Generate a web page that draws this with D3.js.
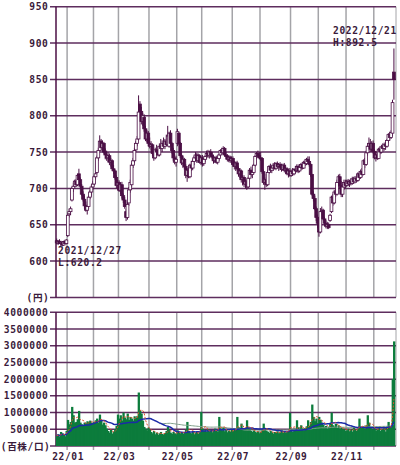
<!DOCTYPE html>
<html><head><meta charset="utf-8">
<script src="https://cdn.jsdelivr.net/npm/d3@7"></script>
<style>body{margin:0;background:#fff}svg{display:block}</style>
</head><body><svg id="c" width="400" height="465"></svg>
<script>
// ---- data (daily, 2021/12/21 .. 2022/12/21) ----
const opens=[628,625,627,624,626,622,627,624,635,665,
668,684,700,703,710,705,720,712,703,692,
685,676,670,675,688,695,702,706,716,722,
742,752,765,756,762,750,746,742,745,736,
738,727,724,715,704,708,697,705,690,684,
668,660,680,698,705,732,738,753,762,768,
816,806,792,798,782,768,776,762,758,760,
748,742,753,750,746,758,755,762,758,765,
760,758,776,762,752,742,736,762,776,762,
745,735,740,730,718,725,716,732,728,737,
742,746,738,745,736,742,734,740,744,748,
745,750,746,743,738,742,736,741,746,752,
749,755,746,744,740,743,738,741,733,730,
735,727,720,724,712,715,706,709,702,714,
725,719,722,732,744,748,745,742,741,723,
708,712,705,722,730,725,728,732,728,734,
730,733,729,726,732,725,727,720,724,718,
723,720,726,724,730,724,729,733,728,736,
734,740,737,733,719,692,686,672,660,655,
640,668,670,658,652,648,650,656,668,688,
680,695,692,708,716,704,692,702,708,704,
710,706,709,707,713,709,714,711,720,715,
723,719,738,733,749,758,762,754,762,751,
742,746,741,754,750,757,755,760,758,766,
774,770,776,860];
const highs=[631,629,630,628,627,628,629,630,666,672,
675,702,708,712,713,720,727,715,706,696,
690,682,678,690,698,705,710,718,722,745,
756,773,768,766,764,755,752,750,748,742,
740,732,726,718,712,711,708,709,693,688,
672,682,702,712,735,742,756,765,772,828,
820,812,804,802,786,780,779,770,765,762,
752,756,760,758,762,768,766,770,768,774,
786,778,780,764,756,748,745,782,778,764,
748,744,742,733,728,730,734,738,740,745,
750,749,748,747,744,746,742,746,752,753,
752,754,750,746,744,745,744,748,754,756,
758,757,750,747,746,745,744,744,738,737,
738,730,728,726,718,718,712,712,716,728,
730,726,734,746,750,752,750,750,743,726,
715,720,725,732,734,732,735,736,736,737,
735,736,734,734,735,730,729,726,728,726,
728,728,731,733,733,732,735,736,738,740,
742,744,744,735,720,696,690,675,664,661,
673,675,672,661,656,654,653,665,690,692,
698,700,712,719,720,710,706,712,712,712,
713,712,714,716,716,717,718,722,724,726,
728,740,742,752,762,770,768,765,766,754,
750,752,756,758,760,762,763,764,768,776,
778,780,822,892.5];
const lows=[623,622,624,621,620.2,621,623,623,633,660,
663,682,695,700,702,703,708,700,690,682,
672,668,664,672,685,690,698,704,712,720,
738,750,752,750,748,740,738,736,732,730,
724,720,712,700,698,695,692,686,680,672,
655,657,676,694,702,728,735,750,758,766,
800,788,786,778,765,764,758,755,752,745,
738,740,746,744,744,752,750,756,754,758,
758,756,760,748,738,733,730,758,760,742,
732,728,726,714,709,714,714,724,725,732,
738,735,735,734,732,730,731,736,740,742,
741,743,740,734,735,734,733,738,743,746,
747,744,740,737,736,735,734,730,726,724,
725,716,714,708,704,702,700,698,700,712,
716,714,720,730,740,742,740,738,720,705,
698,702,703,720,722,721,724,726,725,727,
724,726,723,724,722,720,718,715,716,716,
717,718,721,722,721,722,725,726,727,731,
732,735,730,716,690,682,670,655,645,633.5,
638,664,656,648,645,644,644,654,666,676,
678,688,690,702,700,688,688,698,700,702,
703,702,704,705,706,707,708,709,712,713,
716,718,728,731,745,752,750,750,748,740,
737,739,740,747,748,751,752,753,756,763,
766,768,772,822];
const closes=[625,627,624,626,622,627,624,629,663,668,
672,700,703,710,705,718,712,703,692,685,
676,670,675,688,695,702,706,716,720,742,
752,765,756,762,750,746,742,745,736,738,
727,724,715,704,708,697,705,690,684,675,
660,678,698,708,732,738,752,762,768,805,
806,792,800,782,768,776,762,758,760,748,
742,753,750,746,758,755,762,758,765,760,
772,776,762,752,742,736,740,778,762,745,
735,740,730,718,725,716,732,728,737,742,
746,738,745,736,742,734,740,744,748,745,
750,746,743,738,742,736,741,746,752,749,
755,746,744,740,743,738,741,733,730,735,
727,720,724,712,715,706,709,702,714,725,
719,722,732,744,748,745,742,741,723,708,
712,705,722,730,725,728,732,728,734,730,
733,729,726,732,725,727,720,724,718,723,
720,726,724,730,724,729,733,728,736,734,
740,737,733,719,692,686,672,660,652,640,
668,670,658,652,648,650,646,663,688,680,
695,692,708,716,704,692,702,708,704,710,
706,709,707,713,709,714,711,720,715,723,
719,738,733,749,758,762,754,762,751,742,
746,741,754,750,757,755,760,758,766,774,
770,777,818,850];
// volume in thousands of shares
const volumesK=[300,350,280,420,380,330,290,450,780,650,
720,1170,920,700,720,800,1050,700,650,620,
700,680,740,720,760,700,680,720,770,820,
700,940,760,640,700,620,520,450,400,480,
370,430,500,600,940,820,920,760,1000,850,
800,970,780,870,820,760,890,840,900,1600,
1070,970,760,570,520,470,550,480,420,380,
450,350,400,330,380,420,360,340,390,450,
570,480,400,360,420,380,350,470,430,380,
420,360,400,480,720,450,400,380,420,350,
390,430,370,410,1020,520,450,480,420,500,
440,470,410,450,520,480,430,870,520,470,
560,440,480,410,460,430,500,450,480,520,
870,560,510,670,540,480,520,770,560,500,
450,420,470,430,400,440,380,420,480,670,
520,460,430,390,450,410,370,420,400,440,
380,410,470,390,430,400,450,420,990,480,
420,520,450,770,560,480,620,520,470,540,
590,770,600,720,1240,870,740,820,690,870,
780,700,640,560,600,520,580,670,1000,620,
580,660,540,620,500,560,480,520,450,470,
520,440,500,430,560,480,450,520,820,540,
570,580,500,620,920,700,560,520,480,530,
460,500,570,450,510,480,540,430,570,720,
600,560,2000,3130];
// index of first trading day of each month Jan..Dec 2022
const monthStarts=[8,27,45,67,87,105,127,147,169,189,209,229];
const monthLabels=["22/01","22/03","22/05","22/07","22/09","22/11"];
const labelMonthIdx=[0,2,4,6,8,10];
const priceTicks=[600,650,700,750,800,850,900,950];
const volTicks=[500000,1000000,1500000,2000000,2500000,3000000,3500000,4000000];
const highNote=["2022/12/21","H:892.5"];
const lowNote=["2021/12/27","L:620.2"];
const priceUnit="(円)", volUnit="(百株/口)";

// ---- drawing ----
const svg=d3.select("#c");
const n=closes.length;
const L=56,R=396;
const x=d3.scaleBand().domain(d3.range(n+1)).range([L,R]).padding(0);
const bw=x.bandwidth();
const cx=i=>x(i)+bw/2;
const yP=d3.scaleLinear().domain([550,950]).range([297.4,6.7]);
const yV=d3.scaleLinear().domain([0,4000000]).range([446,312.3]);

const purple="#4b0f45", gridH="#5e2d5e", gridV="#a4a4a8", txt="#3a1a3a";
const font="'DejaVu Sans Mono','Noto Sans CJK JP',monospace";
const fs="9.6px", ls="0.6px";

// vertical gridlines
const gV=svg.append("g");
monthStarts.forEach(m=>{
  const xx=x(m);
  gV.append("line").attr("x1",xx).attr("x2",xx).attr("y1",yP(950)).attr("y2",yP(550)).attr("stroke",gridV).attr("stroke-width",1.5);
  gV.append("line").attr("x1",xx).attr("x2",xx).attr("y1",yV(4000000)).attr("y2",yV(0)+4).attr("stroke",gridV).attr("stroke-width",1.5);
});
[[yP(950),yP(550)],[yV(4000000),yV(0)]].forEach(([a,b])=>
  gV.append("line").attr("x1",R).attr("x2",R).attr("y1",a).attr("y2",b).attr("stroke",gridV).attr("stroke-width",1));

// horizontal gridlines
const gH=svg.append("g");
[550].concat(priceTicks).forEach(t=>gH.append("line").attr("x1",L-6).attr("x2",R).attr("y1",yP(t)).attr("y2",yP(t)).attr("stroke",gridH).attr("stroke-width",1.5));
[0].concat(volTicks).forEach(t=>gH.append("line").attr("x1",L-6).attr("x2",R).attr("y1",yV(t)).attr("y2",yV(t)).attr("stroke",gridH).attr("stroke-width",1.5));
gH.append("line").attr("x1",L).attr("x2",L).attr("y1",yP(950)).attr("y2",yP(550)).attr("stroke",purple).attr("stroke-width",1.5);
gH.append("line").attr("x1",L).attr("x2",L).attr("y1",yV(4000000)).attr("y2",yV(0)).attr("stroke",purple).attr("stroke-width",1.5);

// axis labels
const tA=svg.append("g").attr("font-family",font).attr("font-weight","bold").attr("font-size",fs).attr("letter-spacing",ls).attr("fill",txt);
priceTicks.forEach(t=>tA.append("text").attr("x",48.5).attr("y",yP(t)+3.5).attr("text-anchor","end").text(t));
volTicks.forEach(t=>tA.append("text").attr("x",48.5).attr("y",yV(t)+3.5).attr("text-anchor","end").text(t));
tA.append("text").attr("x",49.5).attr("y",yP(550)+3.5).attr("text-anchor","end").text(priceUnit);
tA.append("text").attr("x",50.5).attr("y",yV(0)+3.5).attr("text-anchor","end").text(volUnit);
labelMonthIdx.forEach((k,j)=>tA.append("text").attr("x",x(monthStarts[k])+1).attr("y",459.5).attr("text-anchor","middle").text(monthLabels[j]));

// volume bars
const data=d3.range(n).map(i=>({i,o:opens[i],h:highs[i],l:lows[i],c:closes[i],v:volumesK[i]*1000}));
svg.append("g").selectAll("rect").data(data).join("rect")
  .attr("x",d=>x(d.i)-0.2).attr("width",bw+0.9)
  .attr("y",d=>yV(d.v)).attr("height",d=>yV(0)-yV(d.v))
  .attr("fill","#0c7c3c");

// moving averages
function ma(k){return data.map((d,i)=>{const s=Math.max(0,i-k+1);return {i,v:d3.mean(data.slice(s,i+1),e=>e.v),full:i>=k-1};});}
const line=d3.line().x(d=>cx(d.i)).y(d=>yV(d.v));
svg.append("path").attr("d",line(ma(75).filter(d=>d.full))).attr("fill","none").attr("stroke","#7f9f8a").attr("stroke-width",1);
svg.append("path").attr("d",line(ma(25))).attr("fill","none").attr("stroke","#1b2aa8").attr("stroke-width",1.5);
svg.append("path").attr("d",line(ma(5))).attr("fill","none").attr("stroke","#e0502a").attr("stroke-width",1).attr("stroke-dasharray","2,1.5");

// candles
const gC=svg.append("g");
const cw=2.8;
gC.selectAll("line").data(data).join("line")
  .attr("x1",d=>cx(d.i)).attr("x2",d=>cx(d.i)).attr("y1",d=>yP(d.h)).attr("y2",d=>yP(d.l))
  .attr("stroke",purple).attr("stroke-width",1);
gC.selectAll("rect").data(data).join("rect")
  .attr("x",d=>cx(d.i)-cw/2).attr("width",cw)
  .attr("y",d=>yP(Math.max(d.o,d.c))).attr("height",d=>Math.max(1,Math.abs(yP(d.o)-yP(d.c))))
  .attr("fill",d=>d.c>=d.o?"#fff":purple).attr("stroke",purple).attr("stroke-width",0.8);

// annotations
const tN=svg.append("g").attr("font-family",font).attr("font-weight","bold").attr("font-size",fs).attr("letter-spacing",ls).attr("fill",txt);
tN.append("text").attr("x",333).attr("y",34).text(highNote[0]);
tN.append("text").attr("x",333).attr("y",45.5).text(highNote[1]);
tN.append("text").attr("x",58).attr("y",254).text(lowNote[0]);
tN.append("text").attr("x",58).attr("y",265.5).text(lowNote[1]);
</script></body></html>
